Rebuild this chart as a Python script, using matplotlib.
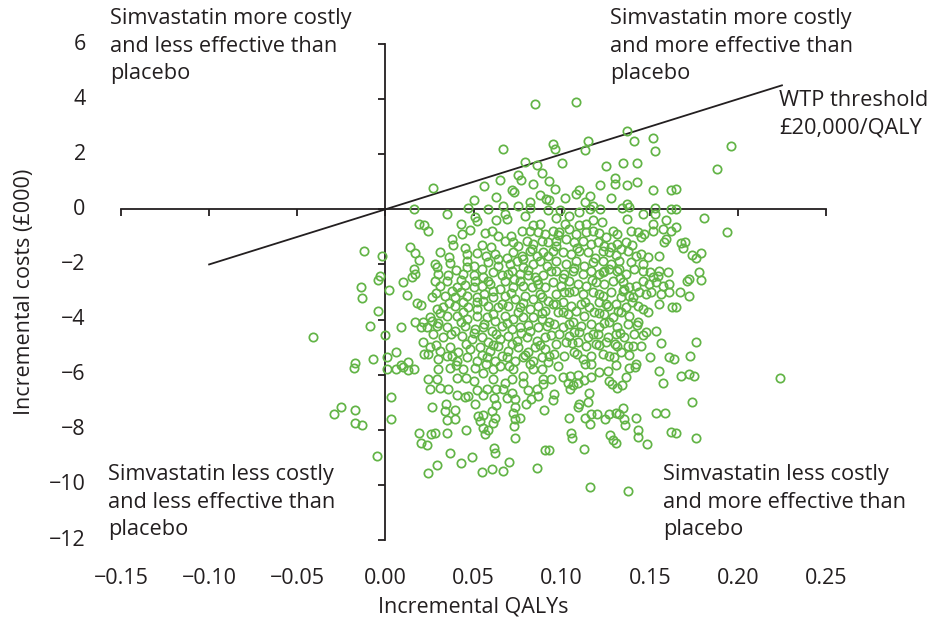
import matplotlib
matplotlib.use("Agg")
import matplotlib.pyplot as plt

plt.rcParams['font.family'] = ['Open Sans', 'DejaVu Sans']

# incremental QALYs / incremental costs (£000)
above_zero = [
    (0.016, 0.00), (0.019, -0.52),
    (0.085, 3.84), (0.067, 2.18), (0.079, 1.72), (0.086, 1.60), (0.089, 1.32), (0.075, 1.23),
    (0.065, 1.08), (0.077, 1.05), (0.084, 0.93), (0.027, 0.77), (0.056, 0.83), (0.072, 0.69),
    (0.073, 0.63), (0.088, 0.53), (0.063, 0.45), (0.050, 0.33), (0.082, 0.27), (0.091, 0.39),
    (0.047, 0.05), (0.058, 0.00), (0.067, 0.11), (0.075, 0.12), (0.082, 0.06), (0.092, -0.04),
    (0.035, -0.18), (0.051, -0.28), (0.068, -0.18), (0.079, -0.25), (0.063, -0.40), (0.069, -0.34),
    (0.043, -0.52), (0.052, -0.42), (0.084, -0.58), (0.088, -0.52), (0.022, -0.58),
    (0.108, 3.90), (0.137, 2.84), (0.095, 2.38), (0.096, 2.20), (0.115, 2.48), (0.113, 2.17),
    (0.141, 2.47), (0.152, 2.59), (0.153, 2.11), (0.100, 1.68), (0.125, 1.56), (0.135, 1.69),
    (0.143, 1.69), (0.130, 1.15), (0.130, 0.91), (0.137, 0.87), (0.143, 0.99), (0.093, 1.03),
    (0.096, 0.75), (0.122, 0.87), (0.110, 0.71), (0.108, 0.55), (0.102, 0.41), (0.152, 0.71),
    (0.162, 0.71), (0.116, 0.47), (0.113, 0.27), (0.128, 0.42), (0.093, 0.35), (0.118, 0.11),
    (0.137, 0.21), (0.099, -0.04), (0.116, 0.02), (0.122, 0.02), (0.134, 0.05), (0.138, 0.08),
    (0.153, 0.06), (0.162, 0.02), (0.104, -0.25), (0.110, -0.10), (0.097, -0.30), (0.118, -0.37),
    (0.137, -0.34), (0.146, -0.16), (0.153, -0.18), (0.123, -0.46), (0.159, -0.40), (0.152, -0.52),
    (0.102, -0.52), (0.114, -0.52), (0.110, -0.58),
    (0.196, 2.30), (0.188, 1.48), (0.165, 0.73), (0.165, 0.02), (0.181, -0.31),
]

left_side = [
    (-0.012, -1.50), (-0.002, -1.68), (0.014, -1.36), (0.017, -1.59), (0.019, -1.83), (0.016, -2.17),
    (0.017, -2.35), (0.015, -2.44), (-0.003, -2.41), (-0.004, -2.55), (0.010, -2.65), (-0.014, -2.81),
    (0.002, -2.92), (-0.013, -3.22), (0.012, -3.11), (0.018, -3.41), (0.020, -3.46), (-0.004, -3.68),
    (0.017, -4.08), (0.020, -4.26), (-0.009, -4.25), (0.009, -4.26), (0.000, -4.55), (-0.041, -4.62),
    (0.006, -5.17), (-0.007, -5.43), (0.001, -5.37), (-0.017, -5.59), (0.013, -5.55), (0.009, -5.64),
    (0.022, -5.25),
    (-0.018, -5.75), (0.001, -5.81), (0.006, -5.80), (0.010, -5.72), (0.013, -5.83), (0.016, -5.80),
    (0.003, -6.80), (-0.025, -7.17), (-0.029, -7.44), (-0.017, -7.30), (-0.017, -7.77), (-0.013, -7.84),
    (0.003, -7.62), (0.019, -8.13), (0.020, -8.47), (-0.005, -8.95),
]

right_side = [
    (0.194, -0.81), (0.168, -1.23), (0.170, -1.20), (0.169, -1.42), (0.174, -1.65), (0.179, -1.60),
    (0.176, -1.78), (0.178, -2.26), (0.179, -2.55), (0.171, -2.61), (0.172, -2.53), (0.167, -3.01),
    (0.172, -3.16), (0.165, -3.56), (0.176, -4.83), (0.173, -5.34), (0.165, -0.65),
    (0.168, -6.05), (0.172, -5.99), (0.175, -6.05), (0.224, -6.11), (0.174, -6.99), (0.176, -8.29),
    (0.165, -8.11),
]

core_left = [
    (0.0244, -0.77), (0.0433, -0.89), (0.0481, -0.75), (0.0566, -0.87), (0.0603, -0.80), (0.0641, -0.95),
    (0.0774, -0.80), (0.0821, -0.77), (0.0868, -0.83), (0.0906, -0.89), (0.0377, -1.08), (0.0386, -1.28),
    (0.0547, -1.28), (0.0679, -1.14), (0.0726, -1.20), (0.0755, -1.32), (0.0802, -1.14), (0.0840, -1.26),
    (0.0887, -1.14), (0.0925, -1.20), (0.0311, -1.56), (0.0462, -1.62), (0.0518, -1.60), (0.0622, -1.62),
    (0.0641, -1.80), (0.0726, -1.56), (0.0774, -1.68), (0.0821, -1.50), (0.0859, -1.68), (0.0896, -1.56),
    (0.0783, -1.80), (0.0282, -1.98), (0.0367, -1.96), (0.0292, -2.10), (0.0462, -1.86), (0.0500, -2.04),
    (0.0462, -2.08), (0.0585, -1.92), (0.0641, -2.04), (0.0707, -1.98), (0.0745, -1.86), (0.0783, -2.10),
    (0.0840, -1.98), (0.0878, -1.86), (0.0915, -2.04), (0.0301, -2.35), (0.0358, -2.40), (0.0282, -2.59),
    (0.0348, -2.59), (0.0443, -2.35), (0.0500, -2.40), (0.0556, -2.47), (0.0613, -2.29), (0.0660, -2.40),
    (0.0698, -2.35), (0.0764, -2.35), (0.0811, -2.40), (0.0849, -2.47), (0.0896, -2.40), (0.0509, -2.59),
    (0.0679, -2.59), (0.0764, -2.59), (0.0311, -2.77), (0.0405, -2.83), (0.0452, -2.73), (0.0500, -2.83),
    (0.0547, -2.77), (0.0594, -2.71), (0.0651, -2.89), (0.0726, -2.83), (0.0783, -2.77), (0.0830, -2.83),
    (0.0868, -2.71), (0.0906, -2.83), (0.0377, -2.95), (0.0613, -2.95), (0.0263, -3.19), (0.0339, -3.13),
    (0.0396, -3.19), (0.0462, -3.13), (0.0518, -3.19), (0.0556, -3.34), (0.0613, -3.19), (0.0679, -3.13),
    (0.0736, -3.25), (0.0792, -3.13), (0.0840, -3.25), (0.0887, -3.19), (0.0925, -3.31), (0.0443, -3.38),
    (0.0329, -3.56), (0.0396, -3.50), (0.0471, -3.56), (0.0518, -3.62), (0.0585, -3.50), (0.0641, -3.56),
    (0.0698, -3.50), (0.0764, -3.56), (0.0821, -3.62), (0.0868, -3.50), (0.0906, -3.68), (0.0292, -3.62),
    (0.0254, -3.92), (0.0348, -3.86), (0.0405, -3.86), (0.0462, -3.98), (0.0518, -3.86), (0.0575, -3.92),
    (0.0622, -4.04), (0.0679, -3.86), (0.0726, -3.98), (0.0783, -3.92), (0.0840, -3.92), (0.0887, -3.98),
    (0.0216, -4.10), (0.0263, -4.04), (0.0235, -4.28), (0.0292, -4.22), (0.0348, -4.28), (0.0396, -4.40),
    (0.0452, -4.22), (0.0509, -4.34), (0.0556, -4.28), (0.0603, -4.40), (0.0660, -4.22), (0.0717, -4.34),
    (0.0764, -4.28), (0.0821, -4.40), (0.0868, -4.28), (0.0915, -4.22), (0.0273, -4.52), (0.0329, -4.65),
    (0.0433, -4.59), (0.0490, -4.71), (0.0547, -4.65), (0.0585, -4.83), (0.0651, -4.71), (0.0698, -4.59),
    (0.0745, -4.77), (0.0802, -4.65), (0.0859, -4.77), (0.0906, -4.65), (0.0216, -4.83), (0.0254, -5.01),
    (0.0311, -5.13), (0.0367, -5.01), (0.0414, -5.19), (0.0481, -5.07), (0.0537, -5.01), (0.0594, -5.13),
    (0.0641, -4.95), (0.0698, -5.13), (0.0755, -5.01), (0.0811, -5.19), (0.0849, -5.01), (0.0906, -5.07),
    (0.0244, -5.25), (0.0301, -5.43), (0.0348, -5.31), (0.0405, -5.49), (0.0462, -5.37), (0.0518, -5.49),
    (0.0575, -5.37), (0.0622, -5.49), (0.0688, -5.37), (0.0736, -5.49), (0.0783, -5.37), (0.0840, -5.49),
    (0.0887, -5.37), (0.0925, -5.55),
]

core_right = [
    (0.0949, -0.77), (0.0987, -0.83), (0.1043, -0.71), (0.1081, -0.89), (0.1138, -0.83), (0.1176, -0.77),
    (0.1214, -0.87), (0.1289, -0.80), (0.1317, -0.89), (0.1393, -0.80), (0.1431, -0.83), (0.1516, -0.80),
    (0.1573, -0.71), (0.1620, -0.77), (0.0968, -1.14), (0.1025, -1.08), (0.1072, -1.20), (0.1119, -1.14),
    (0.1166, -1.26), (0.1204, -1.20), (0.1242, -1.32), (0.1317, -1.26), (0.1365, -1.20), (0.1450, -1.02),
    (0.1592, -1.08), (0.1582, -1.20), (0.0949, -1.50), (0.1006, -1.56), (0.1053, -1.62), (0.1100, -1.50),
    (0.1147, -1.56), (0.1232, -1.50), (0.1270, -1.56), (0.1336, -1.44), (0.1374, -1.50), (0.1421, -1.68),
    (0.1450, -1.62), (0.1488, -1.74), (0.0968, -1.86), (0.1025, -1.98), (0.1081, -1.86), (0.1128, -2.04),
    (0.1176, -1.92), (0.1232, -1.86), (0.1280, -1.98), (0.1327, -1.86), (0.1393, -1.92), (0.1459, -1.98),
    (0.1270, -2.17), (0.1327, -2.17), (0.0968, -2.23), (0.1015, -2.35), (0.1062, -2.23), (0.1119, -2.35),
    (0.1166, -2.23), (0.1214, -2.35), (0.1232, -2.29), (0.1317, -2.23), (0.1365, -2.35), (0.1459, -2.23),
    (0.1554, -2.23), (0.1601, -2.29), (0.1516, -2.47), (0.1544, -2.41), (0.0949, -2.65), (0.0996, -2.77),
    (0.1043, -2.59), (0.1091, -2.71), (0.1138, -2.77), (0.1195, -2.65), (0.1242, -2.71), (0.1289, -2.59),
    (0.1346, -2.65), (0.1384, -2.83), (0.1421, -2.77), (0.1497, -2.71), (0.1535, -2.65), (0.1573, -2.77),
    (0.1610, -2.71), (0.1355, -2.89), (0.0968, -3.07), (0.1015, -3.01), (0.1072, -2.95), (0.1119, -3.07),
    (0.1176, -3.01), (0.1232, -3.13), (0.1280, -3.01), (0.1336, -3.19), (0.1384, -3.13), (0.1440, -3.01),
    (0.1506, -3.01), (0.1563, -3.07), (0.1610, -3.01), (0.1403, -3.19), (0.0949, -3.44), (0.1006, -3.38),
    (0.1053, -3.50), (0.1110, -3.44), (0.1157, -3.56), (0.1214, -3.38), (0.1261, -3.50), (0.1308, -3.44),
    (0.1365, -3.56), (0.1431, -3.50), (0.1459, -3.62), (0.1629, -3.56), (0.0977, -3.74), (0.1034, -3.80),
    (0.1081, -3.68), (0.1128, -3.86), (0.1185, -3.74), (0.1242, -3.80), (0.1289, -3.92), (0.1336, -3.74),
    (0.1384, -3.86), (0.1431, -4.10), (0.0958, -4.16), (0.1006, -4.28), (0.1062, -4.10), (0.1110, -4.22),
    (0.1166, -4.16), (0.1214, -4.28), (0.1270, -4.10), (0.1317, -4.28), (0.1374, -4.16), (0.1478, -4.46),
    (0.1535, -4.43), (0.0987, -4.52), (0.1043, -4.59), (0.1100, -4.46), (0.1147, -4.65), (0.1204, -4.52),
    (0.1261, -4.65), (0.1308, -4.52), (0.1355, -4.65), (0.1412, -4.52), (0.0968, -4.89), (0.1025, -4.83),
    (0.1091, -4.83), (0.1138, -4.95), (0.1195, -4.89), (0.1251, -4.83), (0.1317, -4.95), (0.1374, -4.95),
    (0.1403, -4.95), (0.1563, -4.86), (0.0958, -5.25), (0.1015, -5.31), (0.1072, -5.19), (0.1119, -5.43),
    (0.1166, -5.31), (0.1232, -5.25), (0.1299, -5.37), (0.1336, -5.19), (0.1421, -5.61), (0.1610, -5.37),
    (0.1639, -5.43),
]

# further rings in the crowded middle of the cloud
core_fill = [
    (0.071, -0.97), (0.098, -0.93), (0.125, -1.01), (0.147, -0.90),
    (0.045, -1.42), (0.060, -1.37), (0.083, -1.44), (0.097, -1.33), (0.109, -1.41), (0.128, -1.36), (0.140, -1.30),
    (0.036, -1.74), (0.057, -1.70), (0.069, -1.77), (0.092, -1.69), (0.119, -1.75), (0.131, -1.66), (0.155, -1.71),
    (0.040, -2.21), (0.055, -2.17), (0.072, -2.25), (0.081, -2.19), (0.094, -2.22), (0.107, -2.14),
    (0.124, -2.24), (0.141, -2.16), (0.150, -2.27),
    (0.043, -2.56), (0.058, -2.61), (0.073, -2.52), (0.086, -2.58), (0.101, -2.50), (0.117, -2.57),
    (0.133, -2.49), (0.146, -2.60),
    (0.029, -3.04), (0.043, -2.99), (0.056, -3.07), (0.071, -3.02), (0.088, -3.08), (0.104, -3.00),
    (0.121, -3.06), (0.135, -2.98), (0.148, -3.09),
    (0.036, -3.41), (0.052, -3.37), (0.066, -3.44), (0.078, -3.39), (0.097, -3.45), (0.113, -3.36),
    (0.125, -3.42), (0.140, -3.38), (0.155, -3.43),
    (0.031, -3.76), (0.044, -3.72), (0.061, -3.79), (0.075, -3.73), (0.089, -3.78), (0.101, -3.71),
    (0.121, -3.77), (0.132, -3.70), (0.149, -3.74),
    (0.030, -4.14), (0.043, -4.10), (0.056, -4.17), (0.069, -4.12), (0.081, -4.18), (0.093, -4.09),
    (0.104, -4.16), (0.124, -4.13), (0.143, -4.19),
    (0.037, -4.51), (0.050, -4.47), (0.063, -4.54), (0.077, -4.49), (0.094, -4.55), (0.107, -4.46),
    (0.118, -4.53), (0.133, -4.48), (0.146, -4.56),
    (0.029, -4.91), (0.046, -4.87), (0.061, -4.94), (0.072, -4.88), (0.088, -4.93), (0.106, -4.86),
    (0.121, -4.92), (0.130, -4.87), (0.145, -4.95),
    (0.038, -5.31), (0.055, -5.27), (0.066, -5.34), (0.079, -5.28), (0.093, -5.33), (0.109, -5.26),
    (0.127, -5.32), (0.138, -5.27), (0.150, -5.35),
    (0.040, -5.66), (0.057, -5.62), (0.070, -5.68), (0.082, -5.63), (0.098, -5.67), (0.113, -5.61),
    (0.131, -5.66),
]

lower_tail = [
    (0.0263, -7.17), (0.0345, -7.05), (0.0339, -7.32), (0.0396, -7.28), (0.0396, -7.60), (0.0348, -7.66),
    (0.0258, -8.14), (0.0282, -8.11), (0.0352, -8.11), (0.0235, -8.57), (0.0458, -8.02), (0.0367, -8.83),
    (0.0430, -9.20), (0.0490, -8.99), (0.0292, -9.29), (0.0244, -9.56), (0.0547, -9.53), (0.0603, -9.41),
    (0.0666, -9.50), (0.0704, -9.17), (0.0619, -8.65), (0.0622, -8.83), (0.0736, -8.29), (0.0862, -9.38),
    (0.0906, -8.75), (0.0566, -8.17), (0.0552, -7.93), (0.0537, -7.68), (0.0585, -8.02), (0.0552, -7.48),
    (0.0613, -7.74), (0.0603, -7.32), (0.0628, -7.10), (0.0509, -7.08), (0.0528, -7.50), (0.0730, -7.86),
    (0.0736, -7.62), (0.0723, -7.38), (0.0764, -7.59), (0.0798, -7.08), (0.0736, -7.17), (0.0736, -6.90),
    (0.0900, -7.30), (0.0868, -6.78), (0.0670, -6.53), (0.0689, -6.84), (0.0717, -6.65), (0.0617, -6.84),
    (0.0628, -6.53), (0.0609, -6.17), (0.0575, -6.53), (0.0552, -6.74), (0.0471, -6.78), (0.0452, -6.81),
    (0.0405, -6.74), (0.0358, -6.53), (0.0311, -6.50), (0.0254, -6.53), (0.0244, -6.17), (0.0292, -6.17),
    (0.0301, -5.81), (0.0367, -5.77), (0.0443, -5.81), (0.0509, -5.77), (0.0556, -5.93), (0.0613, -5.81),
    (0.0651, -5.69), (0.0726, -5.81), (0.0783, -6.05), (0.0840, -5.81), (0.0887, -5.81), (0.0896, -6.17),
    (0.0896, -6.35), (0.0859, -6.53), (0.0811, -6.57), (0.0783, -6.29), (0.0717, -6.17), (0.0679, -6.29),
    (0.0500, -6.23), (0.0458, -6.11), (0.0405, -6.11), (0.0522, -6.57), (0.0825, -6.90), (0.0622, -7.56),
    (0.1554, -5.87), (0.1578, -6.29), (0.1384, -5.77), (0.1418, -5.72), (0.1368, -6.09), (0.1342, -6.38),
    (0.1317, -6.50), (0.1285, -6.35), (0.1266, -6.23), (0.1261, -5.87), (0.1214, -5.89), (0.1166, -6.09),
    (0.1128, -6.21), (0.1091, -6.01), (0.1047, -6.05), (0.1006, -6.09), (0.1034, -6.29), (0.1047, -6.53),
    (0.1062, -6.38), (0.1091, -6.29), (0.0939, -6.17), (0.0958, -6.69), (0.0953, -6.93), (0.1153, -6.65),
    (0.1147, -6.98), (0.1100, -7.08), (0.1091, -7.17), (0.1040, -7.56), (0.1134, -7.59), (0.1161, -7.78),
    (0.1166, -7.44), (0.1198, -7.42), (0.1248, -7.60), (0.1270, -7.44), (0.1308, -7.38), (0.1327, -7.42),
    (0.1350, -7.20), (0.1355, -7.62), (0.1361, -7.84), (0.1421, -7.59), (0.1431, -7.99), (0.1431, -8.26),
    (0.1484, -8.51), (0.1535, -7.40), (0.1586, -7.38), (0.1620, -8.08), (0.1053, -8.11), (0.1059, -8.31),
    (0.1276, -8.19), (0.1289, -8.38), (0.1308, -8.49), (0.1128, -8.71), (0.0930, -8.75), (0.1162, -10.08),
    (0.1374, -10.22), (0.1166, -5.63),
]

x_ticks = [-0.15, -0.10, -0.05, 0.00, 0.05, 0.10, 0.15, 0.20, 0.25]
x_labels = ['\u22120.15', '\u22120.10', '\u22120.05', '0.00', '0.05', '0.10', '0.15', '0.20', '0.25']
y_ticks = [6, 4, 2, 0, -2, -4, -6, -8, -10, -12]
y_labels = ['6', '4', '2', '0', '\u22122', '\u22124', '\u22126', '\u22128', '\u221210', '\u221212']

wtp = 20  # £000 per QALY
wtp_x = [-0.10, 0.225]

green = '#62b446'
ink = '#231f20'

pts = above_zero + left_side + right_side + core_left + core_right + core_fill + lower_tail
qaly = [p[0] for p in pts]
cost = [p[1] for p in pts]

fig = plt.figure(figsize=(9.34, 6.22), dpi=100)
ax = fig.add_axes([121 / 934, 1 - 540 / 622, 705 / 934, 496 / 622])
ax.set_xlim(-0.15, 0.25)
ax.set_ylim(-12, 6)

ax.plot(qaly, cost, linestyle='none', marker='o', markersize=6,
        markerfacecolor='none', markeredgecolor=green, markeredgewidth=1.25, zorder=3)
ax.plot(wtp_x, [wtp * v for v in wtp_x], color=ink, lw=1.3, zorder=2)

for s in ['top', 'right']:
    ax.spines[s].set_visible(False)
ax.spines['left'].set_position(('data', 0))
ax.spines['bottom'].set_position(('data', 0))
for s in ['left', 'bottom']:
    ax.spines[s].set_color(ink)
    ax.spines[s].set_linewidth(1.3)
ax.set_xticks(x_ticks)
ax.set_yticks(y_ticks)
ax.tick_params(direction='out', length=5, width=1.3, color=ink,
               labelbottom=False, labelleft=False)

for v, lab in zip(x_ticks, x_labels):
    ax.text(v, -0.077, lab, transform=ax.get_xaxis_transform(), ha='center', va='center',
            fontsize=15.5, color=ink)
for v, lab in zip(y_ticks, y_labels):
    ax.text(-0.05, v, lab, transform=ax.get_yaxis_transform(), ha='right', va='center',
            fontsize=15.5, color=ink)

fig.text(473 / 934, 1 - 607 / 622, 'Incremental QALYs', ha='center', va='center', fontsize=15.5, color=ink)
fig.text(25 / 934, 1 - 292 / 622, 'Incremental costs (\u00a3000)', ha='center', va='center',
         rotation=90, fontsize=15.5, color=ink)

qfont = dict(fontsize=15.7, color=ink, va='top', ha='left', linespacing=1.42)
fig.text(110 / 934, 1 - 8 / 622, 'Simvastatin more costly\nand less effective than\nplacebo', **qfont)
fig.text(610 / 934, 1 - 8 / 622, 'Simvastatin more costly\nand more effective than\nplacebo', **qfont)
fig.text(779 / 934, 1 - 90 / 622, 'WTP threshold\n\u00a320,000/QALY', **qfont)
fig.text(108 / 934, 1 - 464 / 622, 'Simvastatin less costly\nand less effective than\nplacebo', **qfont)
fig.text(663 / 934, 1 - 464 / 622, 'Simvastatin less costly\nand more effective than\nplacebo', **qfont)

fig.savefig('out.png', dpi=100)
